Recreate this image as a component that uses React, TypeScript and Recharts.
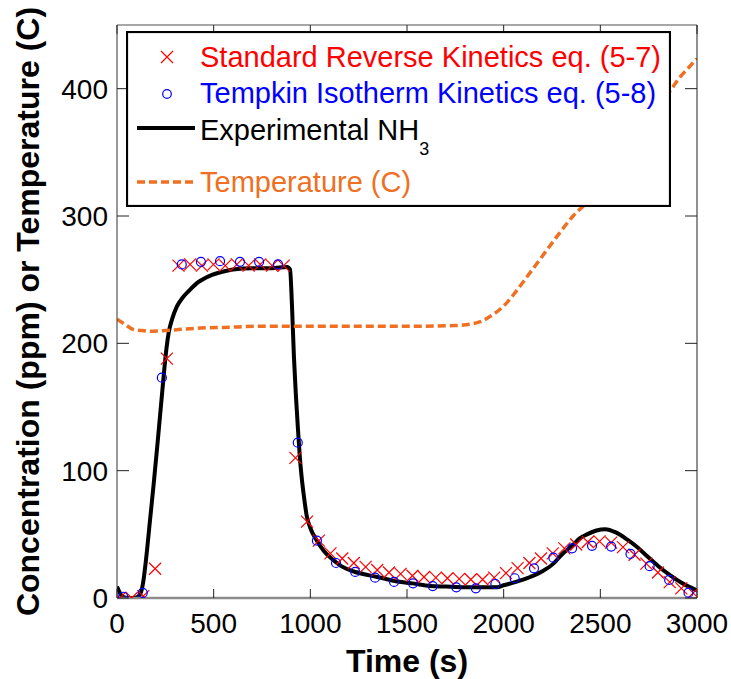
import { ComposedChart, Legend, Line, Scatter, XAxis, YAxis } from "recharts";

const FONT = '"Liberation Sans", Arial, Helvetica, sans-serif';
const RED = "#ff0000";
const BLUE = "#0000ff";
const ORANGE = "#ef7022";
const AXIS_GRAY = "#8a8a8a";

const X_TICKS = [0, 500, 1000, 1500, 2000, 2500, 3000];
const Y_TICKS = [0, 100, 200, 300, 400];

// Experimental NH3 (ppm)
const expTime = [
  0, 15, 30, 60, 100, 120, 135, 150, 170, 190, 210, 222, 240, 255, 268, 285,
  310, 340, 377, 420, 480, 540, 600, 700, 800, 880, 895, 905, 915, 925, 935,
  945, 955, 965, 982, 1000, 1034, 1070, 1117, 1160, 1221, 1300, 1376, 1450,
  1530, 1619, 1700, 1800, 1900, 1966, 2000, 2060, 2137, 2200, 2257, 2300,
  2360, 2395, 2431, 2480, 2525, 2580, 2638, 2690, 2741, 2800, 2860, 2920, 3000,
];
const expConc = [
  9, 4, 1, 0, 0.5, 3, 12, 30, 60, 90, 122, 142, 172, 195, 209, 219, 229, 236,
  242, 248, 253, 256, 258, 259, 259, 260, 258, 230, 190, 160, 135, 112, 95, 82,
  64, 55, 45, 37, 30, 25, 21, 18, 15.5, 13, 11.5, 9.5, 9, 8.5, 8.5, 8.5, 10,
  12.5, 16.5, 21, 27, 34, 42, 47, 50, 53, 54, 51.5, 46, 40, 33, 25, 18, 12, 6,
];

// Standard Reverse Kinetics eq. (5-7)
const srkTime = [
  15, 76, 136, 197, 258, 318, 378, 439, 499, 560, 620, 681, 741, 802, 862, 923,
  983, 1044, 1104, 1165, 1225, 1286, 1346, 1407, 1467, 1528, 1588, 1649, 1709,
  1770, 1830, 1891, 1951, 2012, 2072, 2133, 2193, 2254, 2314, 2375, 2435,
  2496, 2556, 2617, 2677, 2738, 2798, 2859, 2919, 2980,
];
const srkConc = [
  0, 0, 1.5, 23, 188, 261, 262, 261, 262, 261, 262, 261, 262, 261, 261, 110,
  60, 45, 35, 31, 27.5, 24.5, 22, 20, 19, 17.5, 16.5, 16, 15.5, 15, 14.5, 14.5,
  16, 19.5, 23.5, 27.5, 31, 35, 39, 42, 44, 44.5, 43.5, 40, 34, 27, 20, 12.5,
  7.5, 4,
];

// Tempkin Isotherm Kinetics eq. (5-8)
const tikTime = [
  32, 133, 232, 335, 434, 533, 636, 735, 833, 935, 1034, 1133, 1232, 1335,
  1433, 1531, 1633, 1755, 1856, 1957, 2057, 2157, 2257, 2354, 2457, 2556, 2656,
  2755, 2856, 2956,
];
const tikConc = [
  1, 4, 173, 262, 264, 264.5, 264, 264, 262, 122, 45, 27.5, 20.5, 16, 12.6,
  11.5, 9.4, 8.4, 7.6, 11, 15.5, 23.3, 31.7, 39, 41, 40.4, 34.6, 25, 14.2, 4.2,
];

// Temperature (C)
const tempTime = [
  0, 40, 83, 130, 186, 250, 330, 430, 550, 775, 1000, 1300, 1600, 1750, 1826,
  1880, 1929, 1975, 2017, 2060, 2100, 2188, 2276, 2359, 2431, 2500, 2600, 2700,
  2800, 2860, 2912, 2960, 3000,
];
const tempVal = [
  219, 215, 211, 210, 209.5, 210, 211, 212, 212.5, 213.5, 213.5, 213.5, 213.5,
  214, 215, 217, 221, 226, 232, 240, 248, 266, 284, 300, 311, 325, 345, 366,
  385, 398, 409, 417, 424,
];

const zip = (ts: number[], vs: number[]) => ts.map((t, i) => ({ t, v: vs[i] }));

const expData = zip(expTime, expConc);
const srkData = zip(srkTime, srkConc);
const tikData = zip(tikTime, tikConc);
const tempData = zip(tempTime, tempVal);

const CrossMark = (props: any) => {
  const { cx, cy } = props;
  if (cx == null || cy == null) return null;
  const s = 6;
  return (
    <path
      d={`M${cx - s},${cy - s}L${cx + s},${cy + s}M${cx - s},${cy + s}L${cx + s},${cy - s}`}
      stroke={RED}
      strokeWidth={1.2}
      fill="none"
    />
  );
};

const CircleMark = (props: any) => {
  const { cx, cy } = props;
  if (cx == null || cy == null) return null;
  return <circle cx={cx} cy={cy} r={4.5} stroke={BLUE} strokeWidth={1.2} fill="none" />;
};

function LegendBox() {
  const txt = { fontFamily: FONT, fontSize: 29 };
  return (
    <svg width={545} height={176} style={{ display: "block" }}>
      <rect x={1} y={1} width={543} height={174} fill="#fff" stroke="#000" strokeWidth={2.2} />
      <path d="M35,20L47,32M35,32L47,20" stroke={RED} strokeWidth={1.2} />
      <text x={74} y={36} fill={RED} style={txt}>
        Standard Reverse Kinetics eq. (5-7)
      </text>
      <circle cx={41} cy={63} r={4.3} stroke={BLUE} strokeWidth={1.2} fill="none" />
      <text x={74} y={72} fill={BLUE} style={txt}>
        Tempkin Isotherm Kinetics eq. (5-8)
      </text>
      <line x1={11} x2={69} y1={97} y2={97} stroke="#000" strokeWidth={4} />
      <text x={74} y={109} fill="#000" style={txt}>
        Experimental NH
        <tspan fontSize={18} dy={15}>
          3
        </tspan>
      </text>
      <line x1={11} x2={69} y1={151} y2={151} stroke={ORANGE} strokeWidth={3.5} strokeDasharray="8 4" />
      <text x={74} y={161} fill={ORANGE} style={txt}>
        Temperature (C)
      </text>
    </svg>
  );
}

export default function App() {
  const tickFont = { fontFamily: FONT, fontSize: 28, fill: "#000" };
  const titleStyle = { fontFamily: FONT, fontSize: 32, fontWeight: 700, fill: "#000", textAnchor: "middle" as const };
  return (
    <div style={{ position: "absolute", left: 0, top: 0, background: "#fff" }}>
      <ComposedChart width={731} height={679} margin={{ top: 24, right: 33, bottom: 0, left: 0 }}>
        <XAxis
          xAxisId="b"
          type="number"
          dataKey="t"
          domain={[0, 3000]}
          ticks={X_TICKS}
          allowDataOverflow
          height={81}
          axisLine={{ stroke: AXIS_GRAY, strokeWidth: 2.5 }}
          tickLine={{ stroke: "#222", strokeWidth: 1 }}
          tickSize={-9}
          tickMargin={24}
          tick={tickFont}
          label={{ value: "Time (s)", position: "insideBottom", offset: 7, style: titleStyle }}
        />
        <XAxis
          xAxisId="top"
          orientation="top"
          type="number"
          dataKey="t"
          domain={[0, 3000]}
          ticks={X_TICKS}
          allowDataOverflow
          height={1}
          axisLine={{ stroke: AXIS_GRAY, strokeWidth: 1.5 }}
          tickLine={{ stroke: "#222", strokeWidth: 1 }}
          tickSize={-9}
          tickFormatter={() => ""}
        />
        <YAxis
          yAxisId="l"
          type="number"
          domain={[0, 450]}
          ticks={Y_TICKS}
          allowDataOverflow
          width={117}
          axisLine={{ stroke: "#333", strokeWidth: 1 }}
          tickLine={{ stroke: "#222", strokeWidth: 1 }}
          tickSize={-12}
          tickMargin={21}
          tick={tickFont}
          label={{
            value: "Concentration (ppm) or Temperature (C)",
            angle: -90,
            position: "insideLeft",
            offset: 28,
            style: titleStyle,
          }}
        />
        <YAxis
          yAxisId="r"
          orientation="right"
          type="number"
          domain={[0, 450]}
          ticks={Y_TICKS}
          allowDataOverflow
          width={1}
          axisLine={{ stroke: "#222", strokeWidth: 1 }}
          tickLine={{ stroke: "#222", strokeWidth: 1 }}
          tickSize={-12}
          tickFormatter={() => ""}
        />
        <Scatter
          xAxisId="b"
          yAxisId="l"
          data={srkData}
          dataKey="v"
          shape={CrossMark}
          isAnimationActive={false}
        />
        <Scatter
          xAxisId="b"
          yAxisId="l"
          data={tikData}
          dataKey="v"
          shape={CircleMark}
          isAnimationActive={false}
        />
        <Line
          xAxisId="b"
          yAxisId="l"
          data={expData}
          dataKey="v"
          type="monotone"
          stroke="#000"
          strokeWidth={4}
          dot={false}
          isAnimationActive={false}
        />
        <Line
          xAxisId="b"
          yAxisId="l"
          data={tempData}
          dataKey="v"
          type="monotone"
          stroke={ORANGE}
          strokeWidth={3.5}
          strokeDasharray="8 4"
          dot={false}
          isAnimationActive={false}
        />
        <Legend
          layout="vertical"
          align="center"
          verticalAlign="middle"
          content={() => <LegendBox />}
          wrapperStyle={{ left: 126, top: 31, width: 545, height: 176 }}
        />
      </ComposedChart>
    </div>
  );
}
